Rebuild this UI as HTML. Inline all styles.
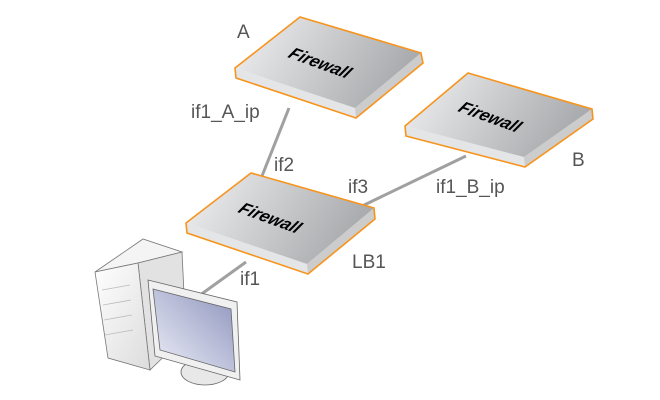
<!DOCTYPE html>
<html><head><meta charset="utf-8"><style>
body{margin:0;background:#fff;width:660px;height:400px;overflow:hidden}
svg{display:block}
text{font-family:"Liberation Sans",sans-serif;fill:#555;font-size:19px}
.fw{font-family:"Liberation Sans",sans-serif;font-weight:bold;font-style:italic;fill:#000;font-size:17px}
</style></head><body>
<svg width="660" height="400" viewBox="0 0 660 400" xmlns="http://www.w3.org/2000/svg">
<defs>
<linearGradient id="top" x1="0" y1="0" x2="1" y2="0.3">
<stop offset="0" stop-color="#f2f2f3"/><stop offset="1" stop-color="#a9abae"/></linearGradient>
<linearGradient id="scr" x1="0" y1="1" x2="1" y2="0">
<stop offset="0" stop-color="#eef0f8"/><stop offset="1" stop-color="#8d93bd"/></linearGradient>
<linearGradient id="tw" x1="0" y1="0" x2="1" y2="1">
<stop offset="0" stop-color="#ffffff"/><stop offset="1" stop-color="#dcdcdc"/></linearGradient>
</defs>
<g stroke="#a0a0a0" stroke-width="3">
<line x1="289" y1="108" x2="262" y2="176"/>
<line x1="466" y1="156" x2="360" y2="207"/>
<line x1="246" y1="262" x2="196" y2="298"/>
</g>
<g>
<polygon points="235,68 355,108 421,53 423,63 356,118 236,78" fill="#e4e5e6"/>
<polygon points="355,108 421,53 423,63 356,118" fill="#ccc"/>
<polygon points="235,68 300,17 421,53 355,108" fill="url(#top)"/>
<polygon points="235,68 300,17 421,53 423,63 356,118 236,78" fill="none" stroke="#f7941d" stroke-width="1.6"/>
<text class="fw" transform="translate(287,57) rotate(20) skewX(-15)">Firewall</text>
</g>
<g>
<polygon points="405,126 524,157 592,109 593,119 525,167 406,136" fill="#e4e5e6"/>
<polygon points="524,157 592,109 593,119 525,167" fill="#ccc"/>
<polygon points="405,126 468,73 592,109 524,157" fill="url(#top)"/>
<polygon points="405,126 468,73 592,109 593,119 525,167 406,136" fill="none" stroke="#f7941d" stroke-width="1.6"/>
<text class="fw" transform="translate(457,111) rotate(20) skewX(-15)">Firewall</text>
</g>
<g>
<polygon points="186,223 307,264 374,208 375,219 308,274 187,233" fill="#e4e5e6"/>
<polygon points="307,264 374,208 375,219 308,274" fill="#ccc"/>
<polygon points="186,223 251,173 374,208 307,264" fill="url(#top)"/>
<polygon points="186,223 251,173 374,208 375,219 308,274 187,233" fill="none" stroke="#f7941d" stroke-width="1.6"/>
<text class="fw" transform="translate(237,212) rotate(20) skewX(-15)">Firewall</text>
</g>
<g stroke="#777" stroke-width="0.8">
<polygon points="95,272 143,239 182,252 138,263" fill="#f4f4f4"/>
<polygon points="138,263 182,252 186,335 150,370" fill="#e2e2e2"/>
<polygon points="95,272 138,263 150,370 108,358" fill="url(#tw)"/>
<line x1="102" y1="290" x2="130" y2="285" stroke="#bbb"/>
<line x1="103" y1="305" x2="131" y2="300" stroke="#bbb"/>
<line x1="104" y1="320" x2="132" y2="315" stroke="#bbb"/>
<line x1="105" y1="335" x2="133" y2="330" stroke="#bbb"/>
</g>
<g stroke="#666" stroke-width="0.8">
<ellipse cx="205" cy="372" rx="24" ry="13" fill="#e8e8e8"/>
<polygon points="148,280 237,302 240,380 155,356" fill="#f0f0f0"/>
<polygon points="153,289 231,309 235,372 160,350" fill="url(#scr)"/>
</g>
<text x="237" y="38">A</text>
<text x="191" y="118">if1_A_ip</text>
<text x="274" y="171">if2</text>
<text x="348" y="193">if3</text>
<text x="436" y="193">if1_B_ip</text>
<text x="572" y="166">B</text>
<text x="352" y="268">LB1</text>
<text x="240" y="285">if1</text>
</svg>
</body></html>
